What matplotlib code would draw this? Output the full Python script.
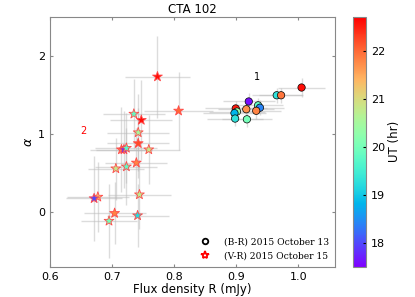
import matplotlib
matplotlib.use("Agg")
import matplotlib.pyplot as plt
import numpy as np

# (B-R) 2015 October 13 -- circles
br_flux = [1.005, 0.965, 0.972, 0.920, 0.935, 0.938, 0.932, 0.916, 0.899, 0.901, 0.897, 0.898, 0.917]
br_alpha = [1.60, 1.50, 1.50, 1.42, 1.37, 1.34, 1.30, 1.32, 1.33, 1.29, 1.27, 1.20, 1.19]
br_ut = [22.6, 19.3, 21.9, 17.6, 19.8, 18.4, 21.8, 21.7, 22.5, 20.3, 18.8, 19.3, 20.0]
br_xerr = [0.038, 0.040, 0.036, 0.042, 0.040, 0.038, 0.040, 0.045, 0.050, 0.045, 0.050, 0.045, 0.040]
br_yerr = [0.12, 0.10, 0.10, 0.11, 0.10, 0.10, 0.10, 0.11, 0.10, 0.10, 0.11, 0.10, 0.10]

# (V-R) 2015 October 15 -- stars
vr_flux = [0.773, 0.807, 0.735, 0.747, 0.742, 0.742, 0.759, 0.715, 0.719, 0.723,
           0.739, 0.723, 0.706, 0.744, 0.677, 0.671, 0.704, 0.741, 0.695]
vr_alpha = [1.74, 1.30, 1.26, 1.18, 1.02, 0.88, 0.80, 0.80, 0.80, 0.82,
            0.63, 0.58, 0.555, 0.22, 0.19, 0.17, -0.02, -0.05, -0.12]
vr_ut = [22.6, 22.0, 19.8, 22.6, 20.5, 22.2, 20.8, 21.8, 17.8, 19.7,
         21.8, 19.8, 20.8, 20.7, 21.3, 18.0, 21.8, 19.2, 20.0]
vr_xerr = [0.052, 0.055, 0.050, 0.050, 0.050, 0.050, 0.050, 0.050, 0.045, 0.050,
           0.050, 0.050, 0.045, 0.050, 0.050, 0.045, 0.050, 0.050, 0.045]
vr_yerr = [0.53, 0.50, 0.45, 0.52, 0.50, 0.45, 0.45, 0.55, 0.50, 0.45,
           0.45, 0.50, 0.40, 0.45, 0.45, 0.55, 0.40, 0.40, 0.48]

UT_MIN, UT_MAX = 17.5, 22.7

fig = plt.figure(figsize=(4.15, 2.97), dpi=100)
ax = fig.add_axes([0.1205, 0.102, 0.687, 0.841])
cax = fig.add_axes([0.851, 0.102, 0.031, 0.841])

ax.errorbar(vr_flux, vr_alpha, xerr=vr_xerr, yerr=vr_yerr, fmt="none",
            ecolor="#bbbbbb", elinewidth=1, alpha=0.5, zorder=1)
ax.errorbar(br_flux, br_alpha, xerr=br_xerr, yerr=br_yerr, fmt="none",
            ecolor="#bbbbbb", elinewidth=1, alpha=0.5, zorder=1)

sc = ax.scatter(br_flux, br_alpha, c=br_ut, cmap="rainbow", vmin=UT_MIN, vmax=UT_MAX,
                marker="o", s=28, edgecolors="black", linewidths=0.5, zorder=3)
ax.scatter(vr_flux, vr_alpha, c=vr_ut, cmap="rainbow", vmin=UT_MIN, vmax=UT_MAX,
           marker="*", s=55, edgecolors="#ff4a4a", linewidths=0.6, zorder=3)

# legend proxies
ax.plot([], [], "o", mfc="white", mec="black", mew=1.3, ms=4,
        label="(B-R) 2015 October 13")
ax.plot([], [], "*", mfc="white", mec="red", mew=1.3, ms=6,
        label="(V-R) 2015 October 15")
ax.legend(loc="lower right", frameon=False, prop={"family": "DejaVu Serif", "size": 6.6},
          handletextpad=1.0, borderaxespad=0.3, labelspacing=0.5)

ax.text(0.933, 1.73, "1", fontsize=7, color="black", ha="center", va="center")
ax.text(0.653, 1.04, "2", fontsize=7, color="red", ha="center", va="center")

ax.set_xlim(0.6, 1.059)
ax.set_ylim(-0.71, 2.51)
ax.set_xticks([0.6, 0.7, 0.8, 0.9, 1.0])
ax.set_yticks([0, 1, 2])
ax.tick_params(direction="in", top=True, right=True, labelsize=8, length=2,
               color="#888888")
for sp in ax.spines.values():
    sp.set_color("#888888")
ax.set_title("CTA 102", fontsize=8.5, pad=3)
ax.set_xlabel("Flux density R (mJy)", fontsize=8.5, labelpad=1)
ax.set_ylabel(r"$\alpha$", fontsize=9, labelpad=2)

cb = fig.colorbar(sc, cax=cax)
cb.set_ticks([18, 19, 20, 21, 22])
cb.ax.tick_params(labelsize=8, length=2, direction="in")
cb.outline.set_edgecolor("#888888")
cb.set_label("UT (hr)", fontsize=8.5, labelpad=2)

fig.savefig("out.png", dpi=100)
